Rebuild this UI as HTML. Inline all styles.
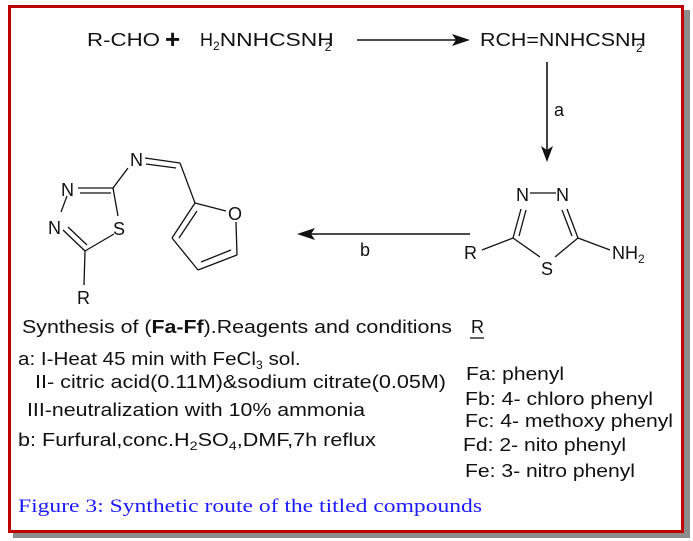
<!DOCTYPE html>
<html><head><meta charset="utf-8"><style>
html,body{margin:0;padding:0;background:#fff;width:693px;height:541px;overflow:hidden}
svg{display:block}
text{font-family:"Liberation Sans",Arial,sans-serif;fill:#111}
</style></head><body>
<svg width="693" height="541" viewBox="0 0 693 541">
<rect x="0" y="0" width="693" height="541" fill="#fff"/>
<rect x="13" y="10" width="677" height="528" fill="#8c8c8c"/>
<rect x="8" y="5" width="676" height="528" fill="#c00000"/>
<rect x="11" y="8" width="670" height="522" fill="#fff"/>
<g font-size="18">
<text x="87" y="46" textLength="73" lengthAdjust="spacingAndGlyphs">R-CHO</text>
<text x="165" y="48" font-size="26" font-weight="bold">+</text>
<text x="200" y="46">H<tspan font-size="12" dy="4">2</tspan><tspan dy="-4" textLength="114" lengthAdjust="spacingAndGlyphs">NNHCSNH</tspan><tspan font-size="12" dx="-9" dy="5">2</tspan></text>
<text x="480" y="46" textLength="166" lengthAdjust="spacingAndGlyphs">RCH=NNHCSNH</text>
<text x="636" y="52" font-size="12">2</text>
<text x="554" y="116">a</text>
<text x="360" y="256">b</text>
</g>
<g stroke="#111" stroke-width="1.6" fill="none">
<line x1="357" y1="40" x2="460" y2="40"/>
<line x1="547" y1="62" x2="547" y2="152"/>
<line x1="470" y1="234" x2="307" y2="234"/>
</g>
<polygon points="470,40 452,34 456,40 452,46" fill="#111"/>
<polygon points="547,162 541,146 547,150 553,146" fill="#111"/>
<polygon points="297,234 315,228 311,234 315,240" fill="#111"/>
<g stroke="#111" stroke-width="1.3" fill="none">
<line x1="530" y1="193" x2="556" y2="193"/>
<line x1="521" y1="209" x2="513" y2="238"/>
<line x1="526" y1="210" x2="519" y2="236"/>
<line x1="567" y1="209" x2="578" y2="238"/>
<line x1="562" y1="210" x2="572" y2="236"/>
<line x1="513" y1="238" x2="540" y2="257"/>
<line x1="578" y1="238" x2="555" y2="257"/>
<line x1="513" y1="238" x2="482" y2="250"/>
<line x1="578" y1="238" x2="610" y2="250"/>
</g>
<g font-size="18">
<text x="516" y="201">N</text><text x="556" y="201">N</text>
<text x="541" y="275">S</text>
<text x="464" y="259">R</text>
<text x="612" y="259">NH<tspan font-size="12" dy="4">2</tspan></text>
</g>
<g stroke="#111" stroke-width="1.3" fill="none">
<line x1="113" y1="188" x2="128" y2="168"/>
<line x1="145" y1="158" x2="180" y2="163"/>
<line x1="146" y1="164" x2="176" y2="168"/>
<line x1="180" y1="163" x2="195" y2="203"/>
<line x1="113" y1="188" x2="78" y2="188"/>
<line x1="111" y1="193" x2="80" y2="193"/>
<line x1="67" y1="196" x2="61" y2="212"/>
<line x1="63" y1="230" x2="85" y2="251"/>
<line x1="68" y1="227" x2="87" y2="245"/>
<line x1="85" y1="251" x2="114" y2="234"/>
<line x1="113" y1="188" x2="118" y2="216"/>
<line x1="85" y1="251" x2="84" y2="285"/>
<line x1="195" y1="203" x2="226" y2="211"/>
<line x1="236" y1="222" x2="237" y2="255"/>
<line x1="237" y1="255" x2="198" y2="270"/>
<line x1="231" y1="250" x2="201" y2="262"/>
<line x1="198" y1="270" x2="172" y2="238"/>
<line x1="172" y1="238" x2="195" y2="203"/>
<line x1="179" y1="238" x2="197" y2="211"/>
</g>
<g font-size="18">
<text x="130" y="166">N</text>
<text x="61" y="196">N</text>
<text x="48" y="234">N</text>
<text x="113" y="235">S</text>
<text x="228" y="220">O</text>
<text x="77" y="304">R</text>
</g>
<g font-size="18">
<text x="22" y="333" textLength="430" lengthAdjust="spacingAndGlyphs">Synthesis of (<tspan font-weight="bold">Fa-Ff</tspan>).Reagents and conditions</text>
<text x="471" y="333">R</text>
<line x1="470" y1="338" x2="484" y2="338" stroke="#111" stroke-width="1.3"/>
<text x="18" y="365"><tspan textLength="238" lengthAdjust="spacingAndGlyphs">a: I-Heat 45 min with FeCl</tspan><tspan font-size="12" dy="4">3</tspan><tspan dy="-4" textLength="38" lengthAdjust="spacingAndGlyphs"> sol.</tspan></text>
<text x="35" y="388" textLength="411" lengthAdjust="spacingAndGlyphs">II- citric acid(0.11M)&amp;sodium citrate(0.05M)</text>
<text x="27" y="416" textLength="338" lengthAdjust="spacingAndGlyphs">III-neutralization with 10% ammonia</text>
<text x="18" y="446" textLength="358" lengthAdjust="spacingAndGlyphs">b: Furfural,conc.H<tspan font-size="12" dy="4">2</tspan><tspan dy="-4">SO</tspan><tspan font-size="12" dy="4">4</tspan><tspan dy="-4">,DMF,7h reflux</tspan></text>
<text x="466" y="380" textLength="98" lengthAdjust="spacingAndGlyphs">Fa: phenyl</text>
<text x="465" y="405" textLength="188" lengthAdjust="spacingAndGlyphs">Fb: 4- chloro phenyl</text>
<text x="465" y="427" textLength="208" lengthAdjust="spacingAndGlyphs">Fc: 4- methoxy phenyl</text>
<text x="463" y="451" textLength="163" lengthAdjust="spacingAndGlyphs">Fd: 2- nito phenyl</text>
<text x="465" y="477" textLength="170" lengthAdjust="spacingAndGlyphs">Fe: 3- nitro phenyl</text>
</g>
<text x="18" y="512" font-size="19" style="fill:#1a1aff;font-family:'Liberation Serif',serif" textLength="464" lengthAdjust="spacingAndGlyphs">Figure 3: Synthetic route of the titled compounds</text>
</svg>
</body></html>
